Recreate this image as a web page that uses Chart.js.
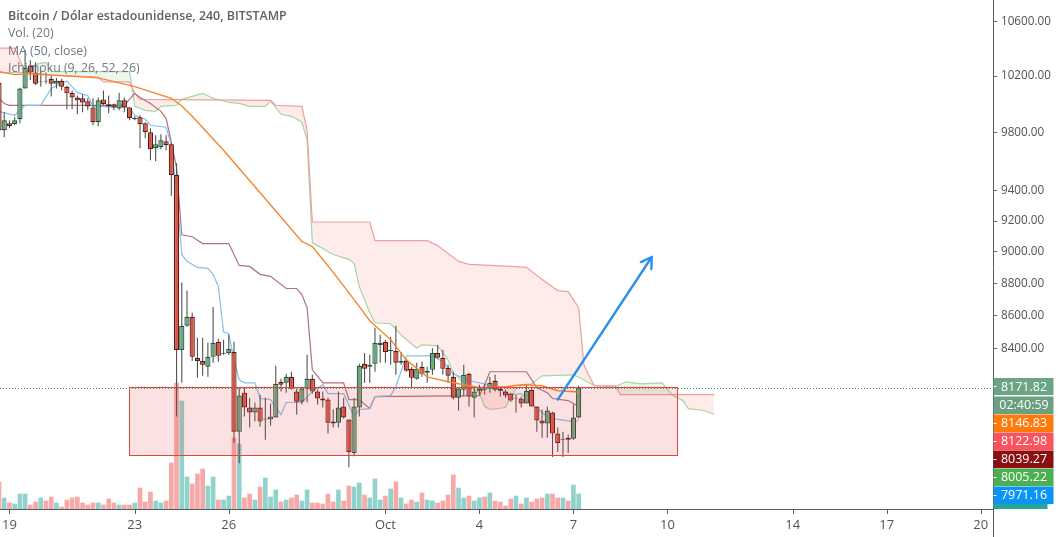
<!DOCTYPE html>
<html><head><meta charset="utf-8">
<style>html,body{margin:0;padding:0;background:#fff}canvas{display:block}</style>
<script src="https://cdn.jsdelivr.net/npm/chart.js@4"></script>
</head><body><canvas id="c" width="1059" height="537"></canvas>
<script>
const titleLines = ['Bitcoin / Dólar estadounidense, 240, BITSTAMP','Vol. (20)','MA (50, close)','Ichimoku (9, 26, 52, 26)'];
const priceTicks = [10600,10200,9800,9400,9200,9000,8800,8600,8400];
const dateTickBars = [2,26,44,74,92,110,128,152,170,188];
const dateTickLabels = ['19','23','26','Oct','4','7','10','14','17','20'];
const tagTexts = ['8171.82','02:40:59','8146.83','8122.98','8039.27','8005.22','7971.16'];
const tagColors = ['#6ba583','#6a9f80','#ff7a0a','#f9535d','#8b0f10','#4caf50','#0a94f6'];
const lastPrice = 8171.82;

const opens = [10150,9814,9863,9856,9891,10110,10275,10225,10155,10165,
10180,10145,10165,10123,10080,10045,10040,10018,9975,9870,
10032,9997,9997,9968,10025,9975,9891,9905,9863,9800,
9690,9697,9738,9717,9507,8394,8540,8594,8347,8329,
8294,8353,8443,8371,8376,8382,7920,8143,8057,8029,
8057,7989,7989,8000,8206,8200,8235,8149,8091,8166,
8224,8149,8109,8103,7977,7971,8063,7989,7800,8057,
8312,8294,8312,8424,8443,8388,8388,8318,8329,8282,
8224,8294,8259,8276,8376,8347,8288,8235,8114,8160,
8253,8114,8154,8166,8166,8212,8166,8149,8137,8109,
8109,8080,8160,8063,7983,7966,8029,7909,7874,7886,
7880,8000];
const highs = [10180,9940,9884,9905,10115,10390,10315,10300,10240,10225,
10200,10185,10180,10130,10095,10060,10068,10040,10040,10045,
10095,10060,10003,10080,10045,9975,9912,9919,9870,9828,
9779,9786,9779,9724,9587,8806,8756,8619,8467,8467,
8437,8655,8461,8455,8485,8443,8171,8171,8114,8086,
8131,8114,8080,8300,8224,8253,8265,8166,8177,8365,
8247,8160,8149,8114,8046,8149,8114,7989,8114,8312,
8376,8365,8527,8485,8455,8473,8540,8382,8341,8294,
8318,8324,8294,8406,8424,8394,8306,8265,8171,8306,
8259,8171,8189,8194,8235,8247,8171,8160,8143,8131,
8120,8194,8177,8063,8046,8063,8034,7943,7920,7903,
8074,8183];
const lows = [9786,9766,9828,9849,9863,10110,10172,10135,10123,10145,
10053,10110,10095,9961,9961,9926,9940,9954,9849,9842,
9990,9933,9954,9954,9940,9884,9884,9690,9758,9607,
9600,9683,9676,9367,8006,8200,8534,8329,8229,8241,
8235,8318,8324,8365,8365,7857,7744,8006,7943,7977,
7949,7874,7954,8000,8149,8143,8160,8017,8074,8086,
8137,8074,8057,7909,7943,7943,7994,7722,7783,8006,
8200,8200,8265,8318,8318,8306,8247,8306,8265,8177,
8218,8235,8200,8247,8341,8247,8200,8103,8040,8120,
8063,8000,8126,8131,8143,8149,8120,8114,8091,8029,
8057,8080,8063,7920,7886,7886,7778,7806,7778,7800,
7874,7994];
const closes = [9814,9884,9842,9884,10110,10260,10225,10145,10160,10160,
10145,10165,10123,10075,10045,10025,10010,9982,9870,10025,
9997,9982,9975,10025,9975,9898,9901,9856,9800,9683,
9717,9745,9710,9507,8394,8540,8594,8353,8329,8306,
8353,8437,8359,8376,8400,7920,8126,8057,8029,8057,
7977,7994,8006,8194,8189,8235,8166,8091,8166,8224,
8149,8109,8097,7971,7966,8057,8000,7806,8063,8300,
8282,8306,8437,8437,8382,8394,8318,8329,8271,8229,
8282,8253,8271,8376,8347,8282,8241,8114,8166,8247,
8120,8149,8166,8160,8200,8160,8154,8126,8097,8114,
8080,8154,8063,7983,7966,8040,7909,7857,7880,7874,
8000,8171.82];
const volumes = [27,11,6,5,15,15,4,7,11,8,
12,6,2,9,11,12,6,4,6,6,
4,10,6,4,4,4,6,21,7,17,
8,6,8,46,126,108,32,25,35,40,
23,32,9,9,13,71,65,11,15,9,
22,31,12,19,7,9,11,14,8,19,
6,6,5,15,7,19,8,23,22,26,
14,11,30,9,13,20,27,11,5,9,
7,16,9,8,6,8,14,34,21,11,
13,8,11,12,16,8,7,3,10,13,
5,11,7,10,11,15,15,11,11,8,
24,15];
const volumeAxisMax = 509;

const maBars = [0,3,6,19,26,33,35,37,43,50,58,60,64,68,71,75,78,82,86,92,97,100,104,107,111];
const maValues = [10232,10210,10217,10187,10123,10040,9985,9912,9676,9387,9067,9035,8870,8700,8570,8455,8335,8235,8206,8171,8177,8189,8183,8154,8146.83];

const conversionBars = [0,3,4,5,8,10,13,15,17,18,25,26,28,29,32,33,34,35,36,38,40,41,42,43,44,45,46,47,49,50,52,54,55,58,60,62,63,66,68,69,71,72,75,76,78,83,85,87,90,93,96,98,100,102,105,107,110,111];
const conversionValues = [9947,9919,9954,9990,9990,10110,10165,10080,10060,9982,9975,9919,9891,9849,9835,9710,9407,8984,8940,8902,8896,8858,8781,8503,8491,8335,8218,8200,8200,8109,8103,8017,8086,8086,8149,8189,8137,8137,8006,8046,8051,8120,8126,8177,8359,8359,8324,8253,8212,8194,8160,8131,8137,8074,8006,7989,7977,7983];

const baseBars = [0,1,2,24,26,27,29,31,32,33,34,35,37,39,44,46,48,50,52,55,57,58,59,60,62,66,67,69,71,72,92,93,94,101,103,105,106,109,111];
const baseValues = [10040,10003,9990,9990,10075,10045,10003,9947,9898,9731,9555,9111,9098,9054,9054,8914,8908,8858,8845,8769,8769,8731,8650,8276,8200,8200,8103,8103,8051,8120,8126,8189,8265,8265,8171,8143,8109,8097,8063];

const leadABars = [0,5,7,9,10,25,26,28,30,31,34,35,39,41,44,46,48,51,52,53,54,56,58,59,60,63,64,67,68,69,71,72,75,77,79,80,81,84,86,87,89,92,93,94,97,98,99,100,102,104,110,112,114,118,120,123,127,129,131,132,135,137];
const leadAValues = [10225,10225,10285,10300,10232,10232,9983,9954,9947,9982,9990,10032,10075,10040,10010,10003,9982,9982,10018,9975,9926,9912,9870,9745,9060,9003,8984,8953,8928,8781,8619,8558,8552,8485,8430,8406,8424,8418,8335,8259,8200,8143,8063,8046,8057,8120,8166,8183,8194,8241,8247,8218,8183,8177,8206,8194,8200,8126,8097,8051,8040,8017];

const leadBBars = [0,3,4,5,10,19,20,25,26,27,52,53,58,59,60,71,72,82,84,88,90,98,101,104,107,109,111,112,113,114,118,119,137];
const leadBValues = [10405,10405,10315,10225,10207,10193,10158,10158,10075,10032,10025,9990,9982,9814,9194,9194,9073,9073,9041,8940,8921,8908,8902,8826,8756,8750,8650,8306,8241,8183,8183,8131,8131];

const zoneBars = [24.9,129.9];
const zonePrices = [8177,7790];
const arrowBars = [107,125];
const arrowPrices = [8103,8968];

const UP='#6ba583',DOWN='#d75442',UPB='#225437',DOWNB='#5b1a13';
const barsIdx = opens.map((_,i)=>i);
const isUp = i => closes[i] >= opens[i];
const pts = (xs,ys) => xs.map((x,i)=>({x,y:ys[i]}));
const lineDs = (label,xs,ys,color,order,extra) => Object.assign({type:'line',label,data:pts(xs,ys),yAxisID:'y',borderColor:color,borderWidth:1.2,pointRadius:0,tension:0,fill:false,order},extra||{});

const overlay = {
  id:'overlay',
  afterDatasetsDraw(ch){
    const c=ch.ctx,x=ch.scales.x,y=ch.scales.y;
    c.save();
    c.beginPath();c.rect(ch.chartArea.left,ch.chartArea.top,ch.chartArea.width,ch.chartArea.height);c.clip();
    const ly=Math.round(y.getPixelForValue(lastPrice))+.5;
    c.strokeStyle='#2f8f5f';c.lineWidth=1;c.setLineDash([1,2]);
    c.beginPath();c.moveTo(0,ly);c.lineTo(ch.chartArea.right,ly);c.stroke();c.setLineDash([]);
    const rx0=x.getPixelForValue(zoneBars[0]),rx1=x.getPixelForValue(zoneBars[1]);
    const ry0=y.getPixelForValue(zonePrices[0]),ry1=y.getPixelForValue(zonePrices[1]);
    c.fillStyle='rgba(228,70,70,.16)';c.fillRect(rx0,ry0,rx1-rx0,ry1-ry0);
    c.strokeStyle='#d9483c';c.lineWidth=1;c.strokeRect(Math.round(rx0)+.5,Math.round(ry0)+.5,Math.round(rx1-rx0),Math.round(ry1-ry0));
    const ax0=x.getPixelForValue(arrowBars[0]),ax1=x.getPixelForValue(arrowBars[1]);
    const ay0=y.getPixelForValue(arrowPrices[0]),ay1=y.getPixelForValue(arrowPrices[1]);
    const ang=Math.atan2(ay1-ay0,ax1-ax0),hl=12,ha=.55;
    c.strokeStyle='#2a8fe8';c.lineWidth=2.4;c.lineCap='round';c.lineJoin='round';
    c.beginPath();c.moveTo(ax0,ay0);c.lineTo(ax1,ay1);
    c.moveTo(ax1-hl*Math.cos(ang-ha),ay1-hl*Math.sin(ang-ha));c.lineTo(ax1,ay1);c.lineTo(ax1-hl*Math.cos(ang+ha),ay1-hl*Math.sin(ang+ha));
    c.stroke();
    c.restore();
  },
  afterDraw(ch){
    const c=ch.ctx,ax=ch.chartArea.right,bottom=ch.chartArea.bottom,x=ch.scales.x;
    c.save();
    c.textBaseline='middle';c.textAlign='left';
    titleLines.forEach((t,i)=>{
      c.font=(i===0?'600 ':'')+(i===0?'12.4px':'12.3px')+' "Open Sans"';
      c.fillStyle=i===0?'#5d6068':'#74777f';
      c.fillText(t,8,16.5+i*17.4);
    });
    // axis lines and date tick marks
    c.strokeStyle='#555a60';c.lineWidth=1;
    c.beginPath();c.moveTo(ax+.5,0);c.lineTo(ax+.5,ch.height);c.stroke();
    c.beginPath();c.moveTo(0,bottom+.5);c.lineTo(ax,bottom+.5);c.stroke();
    dateTickBars.forEach(b=>{
      const px=Math.round(x.getPixelForValue(b))+.5;
      c.beginPath();c.moveTo(px,bottom);c.lineTo(px,bottom+5);c.stroke();
    });
    // price tags
    c.font='12.5px "Open Sans"';c.textAlign='center';
    tagTexts.forEach((t,i)=>{
      const top=378+i*18+(i===0?0:0.5);
      c.fillStyle=tagColors[i];c.fillRect(ax+.5,top,60,i===0?17:17.6);
      c.fillStyle='#fff';c.fillText(t,ax+31,top+9);
      if(i!==1){c.fillRect(ax+.5,Math.round(top+8),3,1);}
    });
    c.fillStyle='#26a69a';c.fillRect(ax+.5,504,54,5);
    c.restore();
  }
};

new Chart(document.getElementById('c'),{
  type:'bar',
  data:{datasets:[
    {label:'Volume',yAxisID:'v',order:20,barThickness:4,grouped:false,data:barsIdx.map(i=>({x:i,y:volumes[i]})),
     backgroundColor:barsIdx.map(i=>isUp(i)?'rgba(38,166,154,.5)':'rgba(239,83,80,.5)')},
    lineDs('Lead 1',leadABars,leadAValues,'#a9d3a6',15,{fill:{target:'+1',above:'rgba(76,175,80,.1)',below:'rgba(244,67,54,.1)'}}),
    lineDs('Lead 2',leadBBars,leadBValues,'#ef9f9f',14),
    lineDs('Base',baseBars,baseValues,'#b0737d',13),
    lineDs('Conversion',conversionBars,conversionValues,'#85c0ec',12),
    {label:'Wicks',yAxisID:'y',order:6,barThickness:1.1,grouped:false,data:barsIdx.map(i=>({x:i,y:[lows[i],highs[i]]})),backgroundColor:'#525254',inflateAmount:0},
    {label:'Bodies',yAxisID:'y',order:5,barThickness:5.2,grouped:false,data:barsIdx.map(i=>({x:i,y:[opens[i],closes[i]]})),
     backgroundColor:barsIdx.map(i=>isUp(i)?UP:DOWN),borderColor:barsIdx.map(i=>isUp(i)?UPB:DOWNB),borderWidth:1.2,borderSkipped:false,inflateAmount:0},
    lineDs('MA 50',maBars,maValues,'#f5862f',2,{borderWidth:1.4})
  ]},
  options:{
    responsive:false,animation:false,
    layout:{padding:0},
    plugins:{legend:{display:false},tooltip:{enabled:false},title:{display:false}},
    scales:{
      x:{type:'linear',position:'bottom',min:0.19,max:190.35,offset:false,
        grid:{display:false},
        border:{display:false},
        afterBuildTicks:s=>{s.ticks=dateTickBars.map(v=>({value:v}));},
        afterFit:s=>{s.height=28;s.paddingLeft=0;s.paddingRight=0;},
        ticks:{autoSkip:false,maxRotation:0,padding:0,color:'#50535c',font:{family:'Open Sans',size:13},
          callback:v=>dateTickLabels[dateTickBars.indexOf(v)]}},
      y:{type:'logarithmic',position:'right',min:7496,max:10767,bounds:'data',
        grid:{display:true,drawOnChartArea:false,drawTicks:true,tickLength:4,tickColor:'#666'},
        border:{display:false},
        afterBuildTicks:s=>{s.ticks=priceTicks.map(v=>({value:v}));},
        afterFit:s=>{s.width=66;s.paddingTop=0;s.paddingBottom=0;},
        ticks:{autoSkip:false,padding:4,color:'#50535c',font:{family:'Open Sans',size:11.7},callback:v=>Number(v).toFixed(2)}},
      v:{type:'linear',display:false,min:0,max:volumeAxisMax}
    }
  },
  plugins:[overlay]
});
</script></body></html>
